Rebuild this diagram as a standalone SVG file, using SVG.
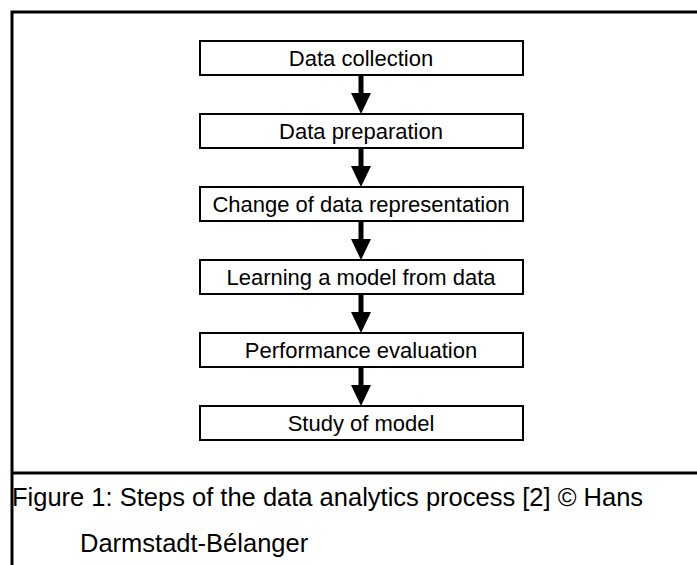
<svg xmlns="http://www.w3.org/2000/svg" width="697" height="565" viewBox="0 0 697 565">
<style>
.box{fill:#fff;stroke:#000;stroke-width:2}
.lbl{font-family:"Liberation Sans",Arial,sans-serif;font-size:22px;fill:#000;text-anchor:middle}
.cap{font-family:"Liberation Sans",Arial,sans-serif;font-size:25.5px;fill:#000}
.frame{stroke:#000;stroke-width:3;fill:none}
.shaft{stroke:#000;stroke-width:5}
</style>
<rect width="697" height="565" fill="#fff"/>
<g id="frame">
<path class="frame" d="M12,565 V12 H697"/>
<path class="frame" d="M12,473 H697"/>
</g>
<g id="connectors">
<path d="M361,75 V93" class="shaft"/><path d="M351,93 L371,93 L361,114 Z"/>
<path d="M361,148 V166" class="shaft"/><path d="M351,166 L371,166 L361,187 Z"/>
<path d="M361,221 V239" class="shaft"/><path d="M351,239 L371,239 L361,260 Z"/>
<path d="M361,294 V312" class="shaft"/><path d="M351,312 L371,312 L361,333 Z"/>
<path d="M361,367 V385" class="shaft"/><path d="M351,385 L371,385 L361,406 Z"/>
</g>
<g id="n1"><rect class="box" x="200" y="41" width="323" height="34"/><text class="lbl" x="361" y="66">Data collection</text></g>
<g id="n2"><rect class="box" x="200" y="114" width="323" height="34"/><text class="lbl" x="361" y="139">Data preparation</text></g>
<g id="n3"><rect class="box" x="200" y="187" width="323" height="34"/><text class="lbl" x="361" y="212">Change of data representation</text></g>
<g id="n4"><rect class="box" x="200" y="260" width="323" height="34"/><text class="lbl" x="361" y="285">Learning a model from data</text></g>
<g id="n5"><rect class="box" x="200" y="333" width="323" height="34"/><text class="lbl" x="361" y="358">Performance evaluation</text></g>
<g id="n6"><rect class="box" x="200" y="406" width="323" height="34"/><text class="lbl" x="361" y="431">Study of model</text></g>
<g id="caption">
<text class="cap" x="12" y="506">Figure 1: Steps of the data analytics process [2] © Hans</text>
<text class="cap" x="80" y="552">Darmstadt-Bélanger</text>
</g>
</svg>
